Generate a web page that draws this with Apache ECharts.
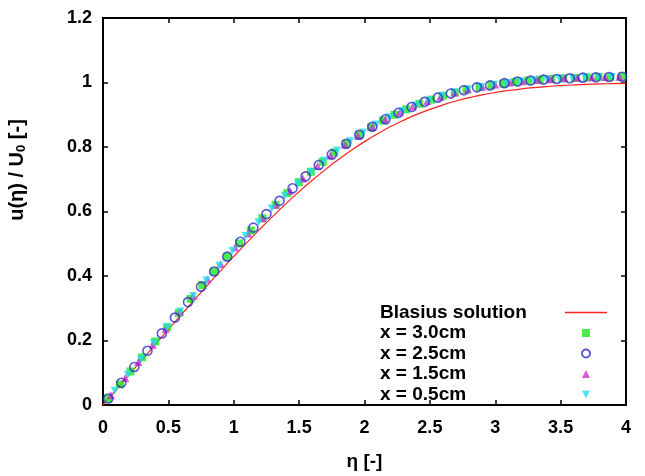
<!DOCTYPE html>
<html>
<head>
<meta charset="utf-8">
<script src="https://cdn.jsdelivr.net/npm/echarts@6/dist/echarts.min.js"></script>
<style>html,body{margin:0;padding:0;background:#fff}#c{width:645px;height:476px}</style>
</head>
<body>
<div id="c"></div>
<script>
// Blasius solution f'(eta)
const blasiusEta = [0,0.1,0.2,0.3,0.4,0.5,0.6,0.7,0.8,0.9,1.0,1.1,1.2,1.3,1.4,1.5,1.6,1.7,1.8,1.9,2.0,2.1,2.2,2.3,2.4,2.5,2.6,2.7,2.8,2.9,3.0,3.1,3.2,3.3,3.4,3.5,3.6,3.7,3.8,3.9,4.0];
const blasiusU = [0,0.04696,0.09391,0.14081,0.18761,0.23423,0.28058,0.32653,0.37196,0.41672,0.46063,0.50354,0.54525,0.58559,0.62439,0.66147,0.69670,0.72993,0.76106,0.79000,0.81669,0.84110,0.86330,0.88322,0.90107,0.91685,0.93060,0.94265,0.95288,0.96173,0.96905,0.97513,0.98015,0.98425,0.98758,0.99028,0.99243,0.99413,0.99548,0.99653,0.99734];

// x = 3.0cm
const eta30 = [0.04,0.13,0.21,0.30,0.40,0.49,0.58,0.67,0.76,0.85,0.95,1.04,1.13,1.22,1.32,1.41,1.50,1.59,1.68,1.77,1.86,1.96,2.05,2.14,2.23,2.32,2.42,2.51,2.60,2.69,2.78,2.88,2.97,3.06,3.15,3.25,3.34,3.43,3.52,3.61,3.70,3.79,3.88,3.97];
const u30 = [0.020,0.064,0.104,0.148,0.197,0.241,0.285,0.329,0.372,0.414,0.460,0.501,0.541,0.579,0.621,0.657,0.691,0.723,0.754,0.783,0.810,0.838,0.861,0.882,0.900,0.917,0.934,0.947,0.959,0.969,0.978,0.986,0.992,0.997,1.002,1.006,1.009,1.011,1.013,1.014,1.016,1.017,1.017,1.018];
// x = 2.5cm
const eta25 = [0.04,0.14,0.24,0.34,0.45,0.55,0.65,0.75,0.85,0.95,1.05,1.15,1.25,1.35,1.45,1.55,1.65,1.75,1.86,1.96,2.06,2.16,2.26,2.36,2.46,2.56,2.66,2.76,2.86,2.96,3.07,3.17,3.27,3.37,3.47,3.57,3.67,3.77,3.87,3.97];
const u25 = [0.020,0.069,0.118,0.168,0.222,0.271,0.319,0.367,0.414,0.460,0.506,0.550,0.592,0.633,0.672,0.709,0.744,0.777,0.810,0.838,0.863,0.886,0.906,0.924,0.940,0.953,0.966,0.976,0.985,0.991,0.998,1.003,1.006,1.009,1.011,1.013,1.015,1.016,1.017,1.018];
// x = 1.5cm
const eta15 = [0.06,0.17,0.27,0.38,0.48,0.59,0.69,0.80,0.90,1.01,1.11,1.22,1.32,1.43,1.53,1.64,1.74,1.85,1.95,2.06,2.16,2.27,2.37,2.48,2.58,2.69,2.79,2.90,3.00,3.11,3.21,3.32,3.42,3.53,3.63,3.74,3.84,3.95];
const u15 = [0.030,0.084,0.133,0.187,0.236,0.290,0.338,0.390,0.437,0.488,0.532,0.579,0.621,0.664,0.702,0.741,0.774,0.807,0.835,0.863,0.886,0.908,0.926,0.943,0.956,0.969,0.979,0.987,0.994,1.000,1.004,1.008,1.010,1.013,1.015,1.016,1.017,1.018];
// x = 0.5cm
const eta05 = [0.09,0.19,0.29,0.39,0.49,0.59,0.69,0.79,0.89,0.99,1.09,1.19,1.29,1.39,1.49,1.59,1.69,1.79,1.89,1.99,2.09,2.19,2.29,2.39,2.49,2.59,2.69,2.79,2.89,2.99,3.09,3.19,3.29,3.39,3.49,3.59,3.69,3.79,3.89];
const u05 = [0.044,0.094,0.143,0.192,0.241,0.290,0.338,0.386,0.432,0.478,0.524,0.567,0.609,0.649,0.687,0.723,0.757,0.789,0.818,0.845,0.870,0.892,0.912,0.929,0.944,0.958,0.969,0.979,0.986,0.993,0.998,1.003,1.006,1.009,1.012,1.014,1.015,1.017,1.017];

const seriesNames = ['Blasius solution','x = 3.0cm','x = 2.5cm','x = 1.5cm','x = 0.5cm'];
const xTicks = [0,0.5,1,1.5,2,2.5,3,3.5,4];
const yTicks = [0,0.2,0.4,0.6,0.8,1,1.2];

const zip = (a,b) => a.map((v,i)=>[v,b[i]]);
const FONT = '"Liberation Sans", Arial, sans-serif';
const RED = '#ff2020';

const chart = echarts.init(document.getElementById('c'), null, {renderer:'canvas'});
const axisBase = {
  type:'value',
  axisLine:{show:true, onZero:false, lineStyle:{color:'#000', width:2}},
  axisTick:{show:true, inside:true, length:5, lineStyle:{color:'#000', width:1.5}},
  splitLine:{show:false}
};
chart.setOption({
  animation:false,
  backgroundColor:'#fff',
  grid:{left:103, right:19, top:18, bottom:67},
  xAxis:[
    Object.assign({}, axisBase, {
      min:0, max:4, interval:0.5, position:'bottom',
      axisLabel:{color:'#000', fontSize:18, fontWeight:'bold', fontFamily:FONT, margin:14,
        formatter: v => (xTicks.indexOf(v) >= 0 ? String(v) : '')},
      name:'η [-]', nameLocation:'middle', nameGap:47,
      nameTextStyle:{color:'#000', fontSize:19, fontWeight:'bold', fontFamily:FONT}
    }),
    Object.assign({}, axisBase, {min:0, max:4, interval:0.5, position:'top', axisLabel:{show:false}})
  ],
  yAxis:[
    Object.assign({}, axisBase, {
      min:0, max:1.2, interval:0.2, position:'left',
      axisLabel:{color:'#000', fontSize:18, fontWeight:'bold', fontFamily:FONT, margin:11,
        formatter: v => { const t = yTicks.find(k => Math.abs(k - v) < 1e-9); return t === undefined ? '' : String(t); }}
    }),
    Object.assign({}, axisBase, {min:0, max:1.2, interval:0.2, position:'right', axisLabel:{show:false}})
  ],
  graphic:[{
    type:'text', x:17, y:170, rotation:Math.PI/2, silent:true,
    style:{
      text:'{a|u(η) / U}{s|0}{a| [-]}', align:'center', verticalAlign:'middle',
      rich:{a:{fontSize:20, fontWeight:'bold', fontFamily:FONT, fill:'#000'},
            s:{fontSize:13, fontWeight:'bold', fontFamily:FONT, fill:'#000', padding:[9,0,0,0]}}
    }
  }],
  legend:{
    orient:'vertical', left:375, top:298, align:'right', itemGap:1.5,
    itemWidth:42, itemHeight:8, symbolKeepAspect:true,
    formatter: n => '{n|' + n + '}',
    textStyle:{color:'#000', fontSize:19, fontWeight:'bold', fontFamily:FONT,
      rich:{n:{width:180, align:'left', fontSize:19, fontWeight:'bold', fontFamily:FONT, color:'#000', lineHeight:18}}},
    data:[
      {name:seriesNames[0], icon:'path://M0,0L42,0L42,1.3L0,1.3Z',
        itemStyle:{color:RED, borderColor:RED, borderWidth:0}, lineStyle:{color:RED}},
      {name:seriesNames[1], icon:'path://M0,0L1,0L1,1L0,1Z'},
      {name:seriesNames[2], icon:'circle'},
      {name:seriesNames[3], icon:'path://M0,1L0.5,0L1,1Z'},
      {name:seriesNames[4], icon:'path://M0,0L1,0L0.5,1Z'}
    ]
  },
  series:[
    {name:seriesNames[0], type:'line', data:zip(blasiusEta, blasiusU), smooth:true, showSymbol:false, symbol:'none',
      lineStyle:{color:RED, width:1.2}, itemStyle:{color:RED}, color:RED, z:1},
    {name:seriesNames[1], type:'scatter', data:zip(eta30, u30), symbol:'rect', symbolSize:8,
      itemStyle:{color:'#1ee81e'}, z:2},
    {name:seriesNames[2], type:'scatter', data:zip(eta25, u25), symbol:'circle', symbolSize:9,
      itemStyle:{color:'rgba(0,0,0,0)', borderColor:'#3030c8', borderWidth:1.6}, z:5},
    {name:seriesNames[3], type:'scatter', data:zip(eta15, u15), symbol:'triangle', symbolSize:8,
      itemStyle:{color:'#d030d0'}, z:3},
    {name:seriesNames[4], type:'scatter', data:zip(eta05, u05), symbol:'triangle', symbolRotate:180, symbolSize:8,
      itemStyle:{color:'#20dde8'}, z:4}
  ]
});
</script>
</body>
</html>
